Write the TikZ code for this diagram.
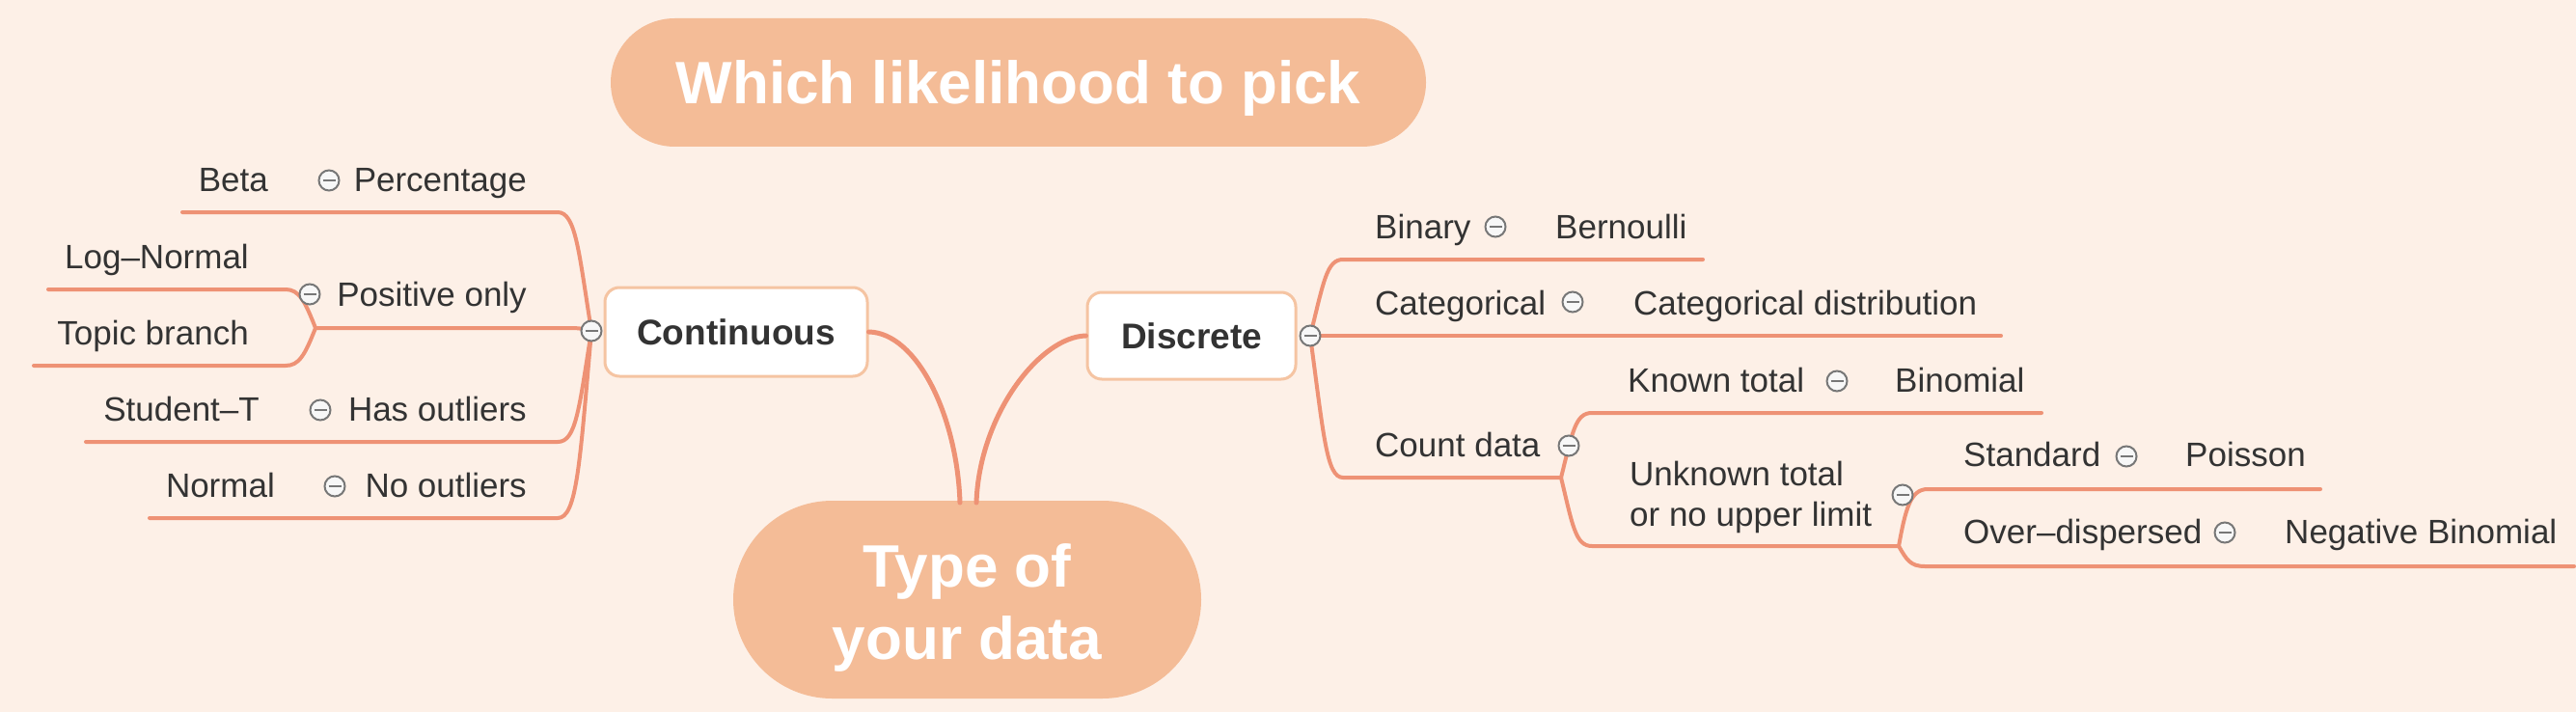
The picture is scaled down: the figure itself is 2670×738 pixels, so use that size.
\documentclass[tikz,border=0pt]{standalone}
\usepackage{fontspec}
\setmainfont{Liberation Sans}
\definecolor{bgc}{HTML}{FDF0E7}
\definecolor{pillc}{HTML}{F4BC97}
\definecolor{branchc}{HTML}{EE9275}
\definecolor{boxc}{HTML}{F5C4A2}
\definecolor{txtc}{HTML}{333333}
\definecolor{knobc}{HTML}{777777}
\begin{document}
\begin{tikzpicture}[x=1pt,y=-1pt,
  body/.style={font=\fontsize{35}{42}\selectfont, text=txtc, inner sep=0pt},
  boldlbl/.style={font=\bfseries\fontsize{37}{44}\selectfont, text=txtc},
  pilltxt/.style={font=\bfseries\fontsize{62}{75}\selectfont, text=white, inner sep=0pt},
  pillbox/.style={fill=pillc, inner sep=0pt},
  topicbox/.style={draw=boxc, line width=3pt, fill=white, rounded corners=15pt, inner sep=0pt},
  sub/.style={draw=branchc, line width=4pt, line cap=round},
  mainbr/.style={draw=branchc, line width=5pt, line cap=round},
  knob/.style={circle, draw=knobc, line width=2pt, fill=white!94!gray, minimum size=21pt, inner sep=0pt,
    path picture={\draw[knobc, line width=1.8pt] ([xshift=-6.5pt]path picture bounding box.center) -- ([xshift=6.5pt]path picture bounding box.center);}}
]
\fill[bgc] (0,0) rectangle (2670,738);
\useasboundingbox (0,0) rectangle (2670,738);

% ---------- pills and boxes (shapes) ----------
\node[pillbox, minimum width=845pt, minimum height=133pt, rounded corners=66.5pt] (title) at (1055.5,85.5) {};
\node[pillbox, minimum width=485pt, minimum height=205pt, rounded corners=102.5pt] (core) at (1002.5,621.5) {};
\node[topicbox, minimum width=272pt, minimum height=92pt] (cont) at (763,344) {};
\node[topicbox, minimum width=216pt, minimum height=90pt] (disc) at (1235,348) {};

% ---------- coordinates ----------
\coordinate (ctop1) at (995,521);
\coordinate (ctop2) at (1012,521);
\coordinate (J) at (613,343);
\coordinate (PJ) at (327,340);
\coordinate (D) at (1358,348);
\coordinate (CJ) at (1618,495);
\coordinate (UJ) at (1968,566);
\coordinate (eBeta) at (189,220);
\coordinate (eLog) at (50,300);
\coordinate (eTopic) at (35,379);
\coordinate (eStud) at (89,458);
\coordinate (eNorm) at (155,537);
\coordinate (eBin) at (1765,269);
\coordinate (eCat) at (2074,348);
\coordinate (eKnown) at (2116,428);
\coordinate (eStd) at (2405,507);
\coordinate (eOver) at (2668,587);

% ---------- connectors ----------
\draw[mainbr] (cont.east) .. controls (950,345) and (992,430) .. (ctop1);
\draw[mainbr] (disc.west) .. controls (1078,349) and (1015,430) .. (ctop2);

\draw[sub] (J) .. controls (600,262) and (597,220) .. (578,220) -- (eBeta);
\draw[sub] (J) .. controls (600,340) .. (585,340) -- (PJ);
\draw[sub] (J) .. controls (600,425) and (597,458) .. (578,458) -- (eStud);
\draw[sub] (J) .. controls (601,480) and (598,537) .. (578,537) -- (eNorm);
\draw[sub] (PJ) .. controls (316,312) and (310,300) .. (296,300) -- (eLog);
\draw[sub] (PJ) .. controls (316,368) and (310,379) .. (296,379) -- (eTopic);

\draw[sub] (D) .. controls (1372,292) and (1375,269) .. (1392,269) -- (eBin);
\draw[sub] (D) -- (eCat);
\draw[sub] (D) .. controls (1372,452) and (1375,495) .. (1392,495) -- (CJ);
\draw[sub] (CJ) .. controls (1630,447) and (1633,428) .. (1650,428) -- (eKnown);
\draw[sub] (CJ) .. controls (1630,545) and (1633,566) .. (1650,566) -- (UJ);
\draw[sub] (UJ) .. controls (1975,528) and (1980,507) .. (1998,507) -- (eStd);
\draw[sub] (UJ) .. controls (1976,580) and (1980,587) .. (1995,587) -- (eOver);

% ---------- knobs ----------
\node[knob] (kCont) at (J) {};
\node[knob] (kDisc) at (D) {};
\node[knob] (kPos) at (321,305) {};
\node[knob] (kCount) at (1626,462) {};
\node[knob] (kUnk) at (1972,513) {};
\node[knob] (kPerc) at (341,187) {};
\node[knob] (kHas) at (332,425) {};
\node[knob] (kNo) at (347,504) {};
\node[knob] (kBinary) at (1550,235) {};
\node[knob] (kCateg) at (1630,313) {};
\node[knob] (kKnown) at (1904,395) {};
\node[knob] (kStd) at (2204,473) {};
\node[knob] (kOver) at (2306,552) {};

% ---------- texts ----------
\node[pilltxt, anchor=base] (titletxt) at (1055.5,108) {Which likelihood to pick};
\node[pilltxt, anchor=base] (coretxt1) at (1002.5,608) {Type of};
\node[pilltxt, anchor=base] (coretxt2) at (1002.5,683) {your data};
\node[boldlbl] (conttxt) at (cont.center) {Continuous};
\node[boldlbl] (disctxt) at (disc.center) {Discrete};

\node[body, anchor=base east] (perc) at (546,198) {Percentage};
\node[body, anchor=base east] (beta) at (278,198) {Beta};
\node[body, anchor=base east] (pos) at (546,317) {Positive only};
\node[body, anchor=base east] (lognorm) at (258,278) {Log–Normal};
\node[body, anchor=base east] (topic) at (258,357) {Topic branch};
\node[body, anchor=base east] (has) at (546,436) {Has outliers};
\node[body, anchor=base east] (stud) at (269,436) {Student–T};
\node[body, anchor=base east] (noout) at (546,515) {No outliers};
\node[body, anchor=base east] (norm) at (285,515) {Normal};

\node[body, anchor=base west] (binary) at (1425,247) {Binary};
\node[body, anchor=base west] (bern) at (1612,247) {Bernoulli};
\node[body, anchor=base west] (categ) at (1425,326) {Categorical};
\node[body, anchor=base west] (catdist) at (1693,326) {Categorical distribution};
\node[body, anchor=base west] (count) at (1425,473) {Count data};
\node[body, anchor=base west] (known) at (1687,406) {Known total};
\node[body, anchor=base west] (binom) at (1964,406) {Binomial};
\node[body, anchor=west, align=left] (unk) at (1689,515) {Unknown total\\or no upper limit};
\node[body, anchor=base west] (std) at (2035,483) {Standard};
\node[body, anchor=base west] (pois) at (2265,483) {Poisson};
\node[body, anchor=base west] (over) at (2035,563) {Over–dispersed};
\node[body, anchor=base west] (negbin) at (2368,563) {Negative Binomial};
\end{tikzpicture}
\end{document}
